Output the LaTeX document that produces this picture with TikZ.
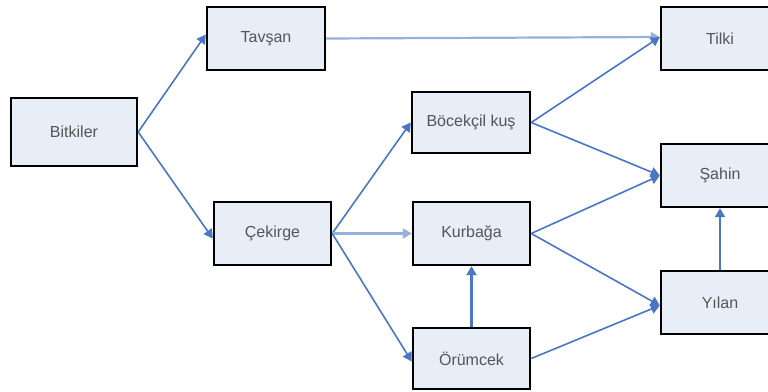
\documentclass[tikz,border=0pt]{standalone}
\usepackage{fontspec}
\setmainfont{Liberation Sans}
\usetikzlibrary{arrows.meta}
\definecolor{boxfill}{HTML}{E8EEF8}
\definecolor{arr}{HTML}{4A76C6}
\definecolor{arrlight}{HTML}{98B0DE}
\definecolor{txt}{HTML}{555555}
\begin{document}
\begin{tikzpicture}[x=1pt,y=-1pt,
  box/.style={draw=black,line width=2.4pt,fill=boxfill,minimum width=118pt,minimum height=63pt,inner sep=0pt,
    font=\fontsize{16}{18}\selectfont,text=txt},
  link/.style={draw=arr,line width=1.6pt,-{Triangle[width=10pt,length=9pt]}},
  linklight/.style={link,draw=arrlight,line width=2.2pt}]
\useasboundingbox (0,0) rectangle (768,391);
\node[box,minimum width=126pt,minimum height=68pt] (bitkiler) at (74,132) {Bitkiler};
\node[box] (tavsan) at (266,38.5) {Tavşan};
\node[box] (tilki) at (720,38.5) {Tilki};
\node[box,minimum height=61pt] (bocek) at (471,122.5) {Böcekçil kuş};
\node[box,minimum width=117pt] (cekirge) at (272.5,233.5) {Çekirge};
\node[box,minimum width=117pt] (kurbaga) at (471.5,233.5) {Kurbağa};
\node[box,minimum width=117pt,minimum height=61pt] (orumcek) at (471.5,358.5) {Örümcek};
\node[box] (sahin) at (720,175.5) {Şahin};
\node[box] (yilan) at (720,302.5) {Yılan};
\draw[link] (bitkiler.east) -- ([yshift=4pt]tavsan.west);
\draw[link] (bitkiler.east) -- ([yshift=-5pt]cekirge.west);
\draw[linklight] (tavsan.east) -- ([yshift=1.5pt]tilki.west);
\draw[link] (cekirge.east) -- (bocek.west);
\draw[linklight] (cekirge.east) -- (kurbaga.west);
\draw[link] (cekirge.east) -- ([yshift=-3pt]orumcek.west);
\draw[link] (bocek.east) -- ([yshift=1.5pt]tilki.west);
\draw[link] (bocek.east) -- (sahin.west);
\draw[link] (kurbaga.east) -- (sahin.west);
\draw[link] (kurbaga.east) -- ([yshift=-3pt]yilan.west);
\draw[link,line width=2.6pt] (orumcek.north) -- (kurbaga.south);
\draw[link] (orumcek.east) -- ([yshift=-3pt]yilan.west);
\draw[link,line width=2pt] (yilan.north) -- (sahin.south);
\end{tikzpicture}
\end{document}
